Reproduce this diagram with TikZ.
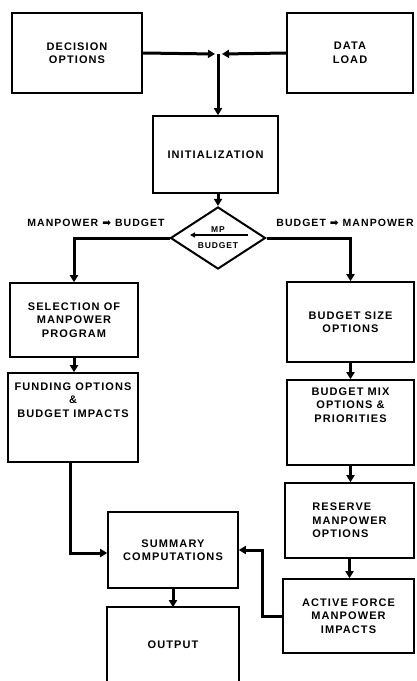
\documentclass[tikz,border=0pt]{standalone}
\usepackage{fontspec}
\setmainfont{Liberation Sans}[LetterSpace=10]
\newfontfamily\symfont{DejaVu Sans}
\usetikzlibrary{shapes.geometric,arrows.meta,calc}
\begin{document}
\begin{tikzpicture}[x=1pt,y=-1pt,
  box/.style={draw=black,line width=1.6pt,rectangle,inner sep=2pt,align=center,font=\bfseries\fontsize{11}{13.5}\selectfont},
  arr/.style={line width=3pt,-{Triangle[length=7pt,width=8pt]}},
  lbl/.style={font=\bfseries\fontsize{10.5}{11}\selectfont,inner sep=0pt}]
\useasboundingbox (0,0) rectangle (417,681);
\fill[white] (0,0) rectangle (417,681);
% boxes
\node[box,minimum width=130pt,minimum height=80pt] (dec) at (77,53) {DECISION\\OPTIONS};
\node[box,minimum width=126pt,minimum height=80pt] (data) at (350,53) {DATA\\LOAD};
\node[box,minimum width=125pt,minimum height=77pt] (init) at (215.5,154.5) {INITIALIZATION};
\node[draw=black,line width=2pt,diamond,minimum width=95pt,minimum height=58pt,inner sep=0pt,align=center,font=\bfseries\fontsize{8.5}{9}\selectfont] (dia) at (218,238) {MP\\[7pt]BUDGET};
\draw[line width=1.4pt,-{Triangle[length=5pt,width=5pt]}] ($(dia.center)+(30,-3)$) -- ($(dia.center)+(-28,-3)$);
\node[box,minimum width=128pt,minimum height=74pt] (sel) at (74,320) {SELECTION OF\\MANPOWER\\PROGRAM};
\node[box,minimum width=130pt,minimum height=89pt] (fund) at (73,417.5) {FUNDING OPTIONS\\\&\\BUDGET IMPACTS\\[22pt]~};
\node[box,minimum width=127pt,minimum height=80pt] (size) at (350.5,322) {BUDGET SIZE\\OPTIONS};
\node[box,minimum width=127pt,minimum height=85pt] (mix) at (350.5,422.5) {BUDGET MIX\\OPTIONS \&\\PRIORITIES\\[22pt]~};
\node[box,minimum width=129pt,minimum height=75pt,align=left] (res) at (349.5,520.5) {RESERVE\\MANPOWER\\OPTIONS};
\node[box,minimum width=131pt,minimum height=74pt] (act) at (348.5,616) {ACTIVE FORCE\\MANPOWER\\IMPACTS};
\node[box,minimum width=130pt,minimum height=76pt] (sum) at (173,550) {SUMMARY\\COMPUTATIONS};
\node[box,draw=none,minimum width=130pt,minimum height=74pt] (out) at (173,645) {OUTPUT};
\draw[line width=1.6pt] (out.south west) -- (out.north west) -- (out.north east) -- (out.south east);
% labels
\node[lbl] (lm) at (96,223) {MANPOWER {\symfont ➡} BUDGET};
\node[lbl] (lb) at (345,223) {BUDGET {\symfont ➡} MANPOWER};
% connectors
\coordinate (j) at (218,54);
\draw[arr] (dec.east) -- ([xshift=-3pt]j);
\draw[arr] (data.west) -- ([xshift=4pt]j);
\draw[arr] (j) -- (init.north -| j);
\draw[arr] (init.south -| dia.north) -- (dia.north);
\draw[arr] (dia.west) -| (sel.north);
\draw[arr] (dia.east) -| (size.north);
\draw[arr] (sel.south) -- (sel.south |- fund.north);
\draw[arr] (size.south) -- (mix.north);
\draw[arr] (mix.south) -- (mix.south |- res.north);
\draw[arr] (res.south) -- (res.south |- act.north);
\draw[arr] ([xshift=-3pt]fund.south) |- ([yshift=-3pt]sum.west);
\draw[arr] (act.west) -| ($(sum.east)+(24,0)$) -- (sum.east);
\draw[arr] (sum.south) -- (out.north);
\end{tikzpicture}
\end{document}
